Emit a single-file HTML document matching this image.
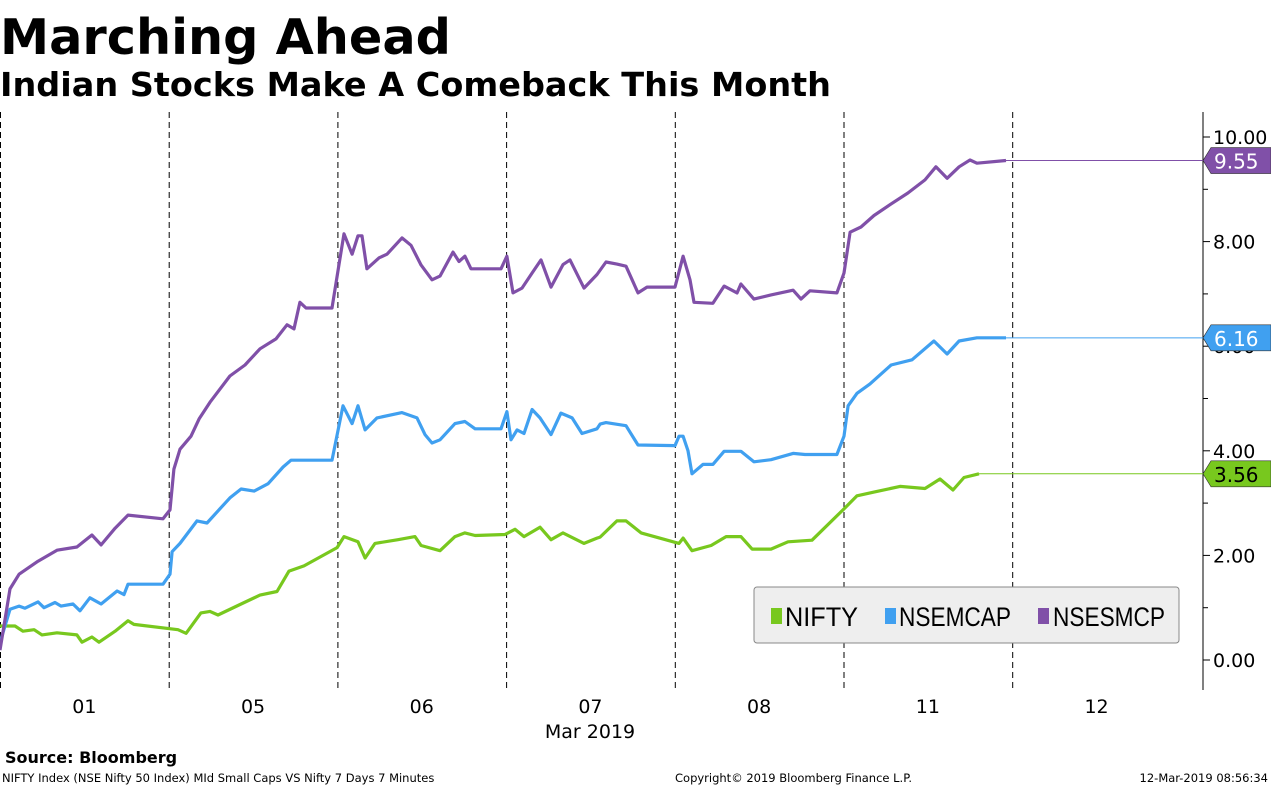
<!DOCTYPE html>
<html><head><meta charset="utf-8"><style>
html,body{margin:0;padding:0;background:#fff;width:1271px;height:786px;overflow:hidden}
svg{display:block}
</style></head><body>
<svg id="chart" width="1271" height="786" xmlns="http://www.w3.org/2000/svg">
<text x="0" y="54" font-family="DejaVu Sans, sans-serif" font-weight="bold" font-size="49" textLength="451" lengthAdjust="spacingAndGlyphs">Marching Ahead</text>
<text x="0" y="96" font-family="DejaVu Sans, sans-serif" font-weight="bold" font-size="33" textLength="831" lengthAdjust="spacingAndGlyphs">Indian Stocks Make A Comeback This Month</text>
<g id="grid"></g>
<line x1="1203" y1="112" x2="1203" y2="690" stroke="#000" stroke-width="1"/>
<g id="yaxis"></g>
<g id="xaxis"></g>
<text x="590" y="738" text-anchor="middle" font-family="DejaVu Sans, sans-serif" font-size="19">Mar 2019</text>
<g id="series"></g>
<g id="flags"></g>
<g>
<rect x="754" y="587" width="425" height="56" rx="3" fill="#eeeeee" stroke="#888" stroke-width="1"/>
<rect x="771" y="608" width="11" height="16" fill="#78c81e"/>
<text x="785" y="626" font-family="Liberation Sans Narrow, Liberation Sans, sans-serif" font-size="27" textLength="73" lengthAdjust="spacingAndGlyphs">NIFTY</text>
<rect x="885" y="608" width="11" height="16" fill="#40a0f0"/>
<text x="899" y="626" font-family="Liberation Sans Narrow, Liberation Sans, sans-serif" font-size="27" textLength="112" lengthAdjust="spacingAndGlyphs">NSEMCAP</text>
<rect x="1038" y="608" width="11" height="16" fill="#8050a8"/>
<text x="1053" y="626" font-family="Liberation Sans Narrow, Liberation Sans, sans-serif" font-size="27" textLength="112" lengthAdjust="spacingAndGlyphs">NSESMCP</text>
</g>
<text x="5" y="763" font-family="DejaVu Sans, sans-serif" font-weight="bold" font-size="16">Source: Bloomberg</text>
<text x="2" y="782" font-family="DejaVu Sans, sans-serif" font-size="11.5">NIFTY Index (NSE Nifty 50 Index) MId Small Caps VS Nifty 7 Days 7 Minutes</text>
<text x="675" y="782" font-family="DejaVu Sans, sans-serif" font-size="11.5">Copyright© 2019 Bloomberg Finance L.P.</text>
<text x="1268" y="782" text-anchor="end" font-family="DejaVu Sans, sans-serif" font-size="11.5">12-Mar-2019 08:56:34</text>
</svg>
<script>
const dayLabels = ["01","05","06","07","08","11","12"];
const yTicks = [0,2,4,6,8,10];
const yTickLabels = ["0.00","2.00","4.00","6.00","8.00","10.00"];
const tNifty = [0,.089,.136,.202,.249,.338,.456,.486,.545,.587,.682,.759,.794,1.055,1.103,1.191,1.245,1.292,1.429,1.541,1.642,1.713,1.802,1.998,2.039,2.122,2.164,2.223,2.359,2.460,2.496,2.608,2.697,2.756,2.816,2.993,3.053,3.106,3.201,3.266,3.337,3.462,3.539,3.557,3.657,3.711,3.800,4.025,4.049,4.102,4.215,4.304,4.392,4.458,4.570,4.671,4.813,5.003,5.080,5.181,5.335,5.483,5.572,5.649,5.714,5.803];
const vNifty = [.65,.65,.55,.58,.48,.52,.48,.34,.44,.34,.55,.75,.68,.58,.51,.9,.93,.86,1.07,1.24,1.31,1.70,1.80,2.15,2.36,2.26,1.95,2.23,2.30,2.36,2.19,2.09,2.36,2.43,2.38,2.40,2.50,2.36,2.54,2.30,2.43,2.23,2.33,2.35,2.66,2.66,2.43,2.23,2.33,2.09,2.19,2.36,2.36,2.12,2.12,2.26,2.29,2.89,3.14,3.21,3.32,3.28,3.46,3.25,3.49,3.56];
const tMid = [0,.059,.113,.148,.225,.261,.326,.362,.433,.474,.533,.599,.694,.735,.759,.966,1.008,1.020,1.067,1.168,1.227,1.292,1.363,1.429,1.506,1.589,1.678,1.725,1.968,2.033,2.087,2.122,2.164,2.235,2.383,2.472,2.519,2.561,2.608,2.697,2.756,2.816,2.970,3.005,3.029,3.065,3.106,3.154,3.201,3.266,3.325,3.391,3.450,3.539,3.557,3.592,3.711,3.782,4.001,4.025,4.049,4.078,4.102,4.167,4.226,4.292,4.392,4.469,4.570,4.701,4.772,4.961,5.003,5.027,5.080,5.157,5.282,5.406,5.536,5.614,5.685,5.791,5.963];
const vMid = [.33,.97,1.03,.99,1.11,1.0,1.1,1.03,1.07,.94,1.19,1.07,1.32,1.25,1.45,1.45,1.64,2.07,2.23,2.66,2.62,2.85,3.10,3.27,3.23,3.37,3.69,3.82,3.82,4.86,4.52,4.86,4.40,4.63,4.73,4.63,4.31,4.15,4.21,4.52,4.56,4.42,4.42,4.75,4.21,4.40,4.33,4.79,4.63,4.31,4.72,4.63,4.33,4.42,4.51,4.54,4.48,4.11,4.1,4.28,4.28,4.0,3.56,3.74,3.74,3.99,3.99,3.79,3.83,3.95,3.93,3.93,4.28,4.86,5.1,5.28,5.64,5.74,6.10,5.85,6.10,6.16,6.16];
const tSmall = [0,.059,.113,.225,.338,.456,.545,.599,.682,.759,.966,1.008,1.031,1.067,1.132,1.180,1.245,1.363,1.452,1.541,1.636,1.701,1.743,1.778,1.814,1.968,2.009,2.039,2.087,2.122,2.146,2.175,2.247,2.294,2.383,2.436,2.496,2.561,2.608,2.685,2.721,2.756,2.792,2.970,3.005,3.041,3.094,3.154,3.207,3.266,3.337,3.379,3.462,3.539,3.592,3.657,3.711,3.782,3.835,4.001,4.049,4.090,4.114,4.226,4.292,4.369,4.392,4.469,4.570,4.701,4.748,4.801,4.961,5.003,5.039,5.104,5.181,5.282,5.382,5.483,5.548,5.614,5.685,5.750,5.791,5.963];
const vSmall = [.19,1.36,1.64,1.89,2.10,2.16,2.39,2.20,2.52,2.77,2.70,2.87,3.65,4.03,4.28,4.61,4.93,5.43,5.64,5.95,6.14,6.41,6.33,6.84,6.73,6.73,7.55,8.15,7.76,8.11,8.11,7.48,7.69,7.76,8.07,7.93,7.55,7.27,7.34,7.80,7.62,7.72,7.48,7.48,7.72,7.02,7.11,7.40,7.65,7.13,7.56,7.65,7.11,7.37,7.61,7.57,7.53,7.02,7.13,7.13,7.72,7.27,6.84,6.82,7.15,7.02,7.19,6.90,6.98,7.07,6.90,7.06,7.02,7.40,8.18,8.28,8.50,8.72,8.93,9.18,9.43,9.21,9.43,9.56,9.5,9.55];

const NS="http://www.w3.org/2000/svg";
const DAYW=168.7;
const xS=t=>t*DAYW;
const yS=v=>660-v*52.3;
function mk(tag,attrs,parent){const e=document.createElementNS(NS,tag);for(const k in attrs)e.setAttribute(k,attrs[k]);parent.appendChild(e);return e;}

const grid=document.getElementById('grid');
for(let i=0;i<dayLabels.length;i++){
  const l=mk('line',{x1:xS(i)+0.5,x2:xS(i)+0.5,y1:112,y2:690,stroke:'#000','stroke-width':1,'stroke-dasharray':'6,4'},grid);
  
  
}
const xa=document.getElementById('xaxis');
dayLabels.forEach((d,i)=>{
  const t=mk('text',{x:xS(i+0.5),y:713,'text-anchor':'middle','font-family':'DejaVu Sans, sans-serif','font-size':19},xa);
  t.textContent=d;
  
  
});
const ya=document.getElementById('yaxis');
for(let v=0;v<=10;v++){
  const major=v%2===0;
  const tk=mk('line',{x1:1203,x2:major?1210:1208,y1:yS(v),y2:yS(v),stroke:'#000','stroke-width':1},ya);
  
  
}
yTicks.forEach((v,i)=>{
  const t=mk('text',{x:1213,y:yS(v)+7,'font-family':'DejaVu Sans, sans-serif','font-size':19},ya);
  t.textContent=yTickLabels[i];
  
  
});
const ser=document.getElementById('series');
const flags=document.getElementById('flags');
function drawSeries(ts,vs,color,name){
  const pts=ts.map((t,i)=>xS(t).toFixed(1)+','+yS(vs[i]).toFixed(1)).join(' ');
  const p=mk('polyline',{points:pts,fill:'none',stroke:color,'stroke-width':3.2,'stroke-linejoin':'round'},ser);
  
  
  const last=vs[vs.length-1], lt=ts[ts.length-1], y=yS(last);
  const g=mk('line',{x1:xS(lt),x2:1203,y1:y,y2:y,stroke:color,'stroke-width':1},flags);
  
  
  const f=mk('polygon',{points:`1203,${y} 1211,${y-13} 1271,${y-13} 1271,${y+13} 1211,${y+13}`,fill:color,stroke:'#333','stroke-width':0.6},flags);
  
  
  const tx=mk('text',{x:1214,y:y+8,'font-family':'DejaVu Sans, sans-serif','font-size':20,fill:name==='nifty'?'#000':'#fff'},flags);
  tx.textContent=last.toFixed(2);
  
  
}
drawSeries(tNifty,vNifty,'#78c81e','nifty');
drawSeries(tMid,vMid,'#40a0f0','nsemcap');
drawSeries(tSmall,vSmall,'#8050a8','nsesmcp');
</script>
</body></html>
